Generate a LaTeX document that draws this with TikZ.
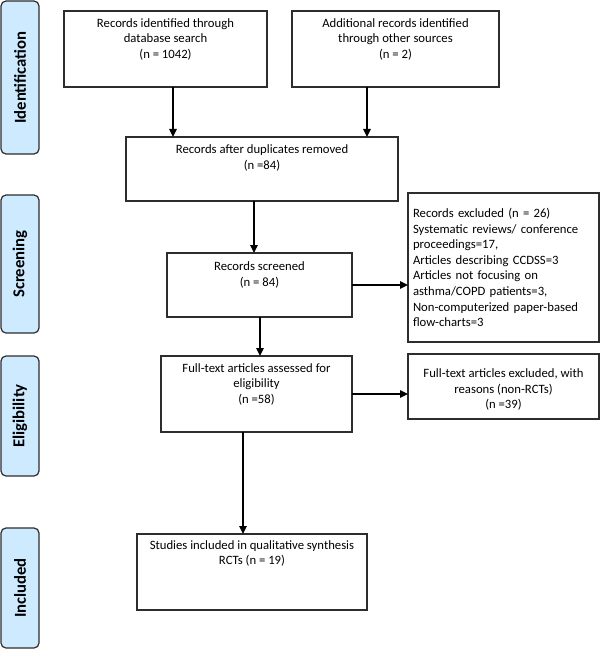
\documentclass[tikz,border=0pt]{standalone}
\usepackage{fontspec}
\setmainfont{Carlito}
\usetikzlibrary{arrows.meta}
\definecolor{phase}{RGB}{205,234,255}
\definecolor{edgegray}{RGB}{45,45,45}
\begin{document}
\begin{tikzpicture}[x=1pt,y=-1pt,
  box/.style={draw=edgegray, line width=1.2pt, fill=white, inner sep=0pt, outer sep=0pt,
    align=center, font=\fontsize{12.7}{15.6}\selectfont},
  phasebox/.style={draw=edgegray, line width=1.2pt, fill=phase, rounded corners=5pt,
    rotate=90, inner sep=0pt, outer sep=0pt, minimum height=38pt,
    font=\fontsize{16.7}{20}\selectfont\bfseries},
  arr/.style={-{Triangle[length=8pt,width=7.5pt]}, line width=1.3pt, draw=black}
]
\useasboundingbox (0,0) rectangle (600,650);

% phase labels
\node[phasebox, minimum width=153pt] (pid) at (20,77.5) {Identification};
\node[phasebox, minimum width=138pt] (psc) at (20,264) {Screening};
\node[phasebox, minimum width=120pt] (pel) at (20,416) {Eligibility};
\node[phasebox, minimum width=120pt] (pin) at (20,588) {Included};

% boxes
\node[box, minimum width=203pt, minimum height=76pt] (A) at (165.5,49)
  {Records identified through\\database search\\(n = 1042)\\[6pt]};
\node[box, minimum width=207pt, minimum height=76pt] (B) at (395.5,49)
  {Additional records identified\\through other sources\\(n = 2)\\[6pt]};
\node[box, minimum width=272pt, minimum height=64pt] (C) at (262,169)
  {Records after duplicates removed\\(n =84)\\[8pt]};
\node[box, minimum width=185pt, minimum height=64pt] (D) at (259.5,285)
  {Records screened\\(n = 84)\\[6pt]};
\node[box, minimum width=191pt, minimum height=149pt, text width=181pt, align=left] (E) at (503.5,267.5)
  {Records excluded (n = 26)\\Systematic reviews/ conference\\proceedings=17,\\Articles describing CCDSS=3\\Articles not focusing on\\asthma/COPD patients=3,\\Non-computerized paper-based\\flow-charts=3\\[3pt]};
\node[box, minimum width=191pt, minimum height=76pt] (F) at (256.5,394)
  {Full-text articles assessed for\\eligibility\\(n =58)\\[6pt]};
\node[box, minimum width=191pt, minimum height=65pt] (G) at (503.5,386.5)
  {\rule{0pt}{15pt}Full-text articles excluded, with\\reasons (non-RCTs)\\(n =39)};
\node[box, minimum width=230pt, minimum height=76pt] (H) at (252,572)
  {Studies included in qualitative synthesis\\RCTs (n = 19)\\\mbox{}\\[8pt]};

% connectors
\draw[arr] ([xshift=7.5pt]A.south) -- ([xshift=7.5pt]A.south |- C.north);
\draw[arr] ([xshift=-28.5pt]B.south) -- ([xshift=-28.5pt]B.south |- C.north);
\draw[arr] ([xshift=-8pt]C.south) -- ([xshift=-8pt]C.south |- D.north);
\draw[arr] (D.east) -- (D.east -| E.west);
\draw[arr] ([xshift=0.5pt]D.south) -- ([xshift=0.5pt]D.south |- F.north);
\draw[arr] (F.east) -- (F.east -| G.west);
\draw[arr] ([xshift=-13.5pt]F.south) -- ([xshift=-13.5pt]F.south |- H.north);
\end{tikzpicture}
\end{document}
